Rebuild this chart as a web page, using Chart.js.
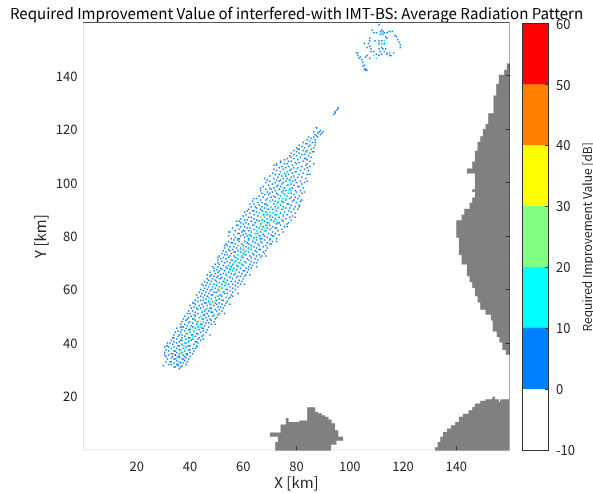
<!DOCTYPE html>
<html>
<head>
<meta charset="utf-8">
<script src="https://cdn.jsdelivr.net/npm/chart.js@4/dist/chart.umd.min.js"></script>
<style>
  body { margin: 0; background: #fff; }
  #wrap { position: relative; width: 593px; height: 493px; }
  canvas { position: absolute; top: 0; }
</style>
</head>
<body>
<div id="wrap">
  <canvas id="map" width="593" height="493" style="left:0"></canvas>
  <canvas id="bar" width="103" height="493" style="left:490px"></canvas>
</div>
<script>
const chartTitle = "Required Improvement Value of interfered-with IMT-BS: Average Radiation Pattern";
const barTitle = "Required Improvement Value [dB]";
const xTicks = [20, 40, 60, 80, 100, 120, 140];
const yTicks = [20, 40, 60, 80, 100, 120, 140];
const xTicksOnLand = [80, 140];
const yTicksOnLand = [40, 60, 80, 100, 120, 140];
const barTicks = [-10, 0, 10, 20, 30, 40, 50, 60];
const barColors = ["#ffffff", "#0080ff", "#00ffff", "#80ff80", "#ffff00", "#ff8000", "#ff0000"];

// land outlines, x then y
const eastLandX = [160, 159, 158, 156, 155, 154, 152, 151, 150, 149, 148, 147, 146, 144, 147, 146, 147, 146, 145, 143, 142, 140, 141, 142, 144, 145, 146, 147, 148, 149, 151, 153, 153.7, 155.2, 156.2, 157.3, 158.6, 160];
const eastLandY = [144.5, 142.2, 140.3, 137, 132.6, 125.9, 121.9, 120, 117.3, 115.3, 111.9, 107.9, 105.3, 103.4, 97.5, 96.5, 94.4, 92.5, 90.2, 88.1, 85.9, 79.4, 72.9, 69.4, 65, 62.7, 60.6, 57.5, 55.2, 52.4, 50.6, 48.4, 44.3, 42.3, 40.2, 37.4, 35.6, 35.6];
const southLandX = [72, 72, 73, 70, 70, 74, 76, 76, 77, 81, 84, 84, 87, 88, 89.5, 90.7, 92, 93.2, 94.5, 95.7, 97.5, 95, 93];
const southLandY = [0, 3, 5, 5, 6.5, 9.5, 10.5, 12, 10.5, 11, 12.5, 16, 14.3, 13.7, 13, 12.4, 11.4, 10, 7.4, 5, 3.5, 2, 0];
const cornerLandX = [132, 132, 133, 134, 135, 136.5, 138, 139.6, 141, 142.5, 144.6, 146, 147, 149, 151, 153.4, 154, 154.6, 156, 156.5, 160, 160];
const cornerLandY = [0, 1, 3, 5, 6.7, 8, 9.3, 10.5, 12.4, 13.6, 14.9, 16.1, 17.4, 18.4, 19, 19.6, 20, 19, 18, 19, 19, 0];
// frame runs, dark where the frame crosses land
const bottomFrameX = [0, 160];
const bottomFrameY = [0, 0];
const rightFrameX = [160, 160];
const rightFrameY = [0, 160];
const southEdgeX = [72, 93];
const cornerEdgeX = [132, 160];
const eastEdgeY = [35.6, 144.5];

// cells per row: y, then the x of each cell in that row
const blueRows = [
  [30.5, 36], [31, 34, 34.5, 36.5], [31.5, 35.5, 37], [32, 32, 33, 35, 35.5, 38.5], [32.5, 34, 36.5, 37.5],
  [33, 31, 32.5, 33, 36, 39], [33.5, 35, 38], [34, 31.5, 34, 34.5, 37, 37.5, 39.5], [34.5, 33, 36, 38.5], [35, 31, 33.5, 35.5, 36, 38, 40],
  [35.5, 32, 34.5, 37.5, 39], [36, 33, 33.5, 36, 38.5, 39, 41], [36.5, 30.5, 35, 37, 40], [37, 32, 34, 34.5, 38, 41.5], [37.5, 31, 36, 36.5, 39.5, 40],
  [38, 33, 35, 37.5, 41, 42], [38.5, 30.5, 32, 34, 38.5], [39, 31.5, 35.5, 36, 39.5, 40, 42.5], [39.5, 33.5, 37, 41.5], [40, 31.5, 32.5, 35, 38, 38.5, 43],
  [40.5, 34, 36, 39.5, 42, 42.5], [41, 33, 36.5, 37, 40.5, 44], [41.5, 35, 38.5, 41, 43], [42, 33.5, 34, 37, 39.5, 40, 43.5], [42.5, 35.5, 38, 42, 44.5],
  [43, 34, 36, 37, 40.5, 41, 45], [43.5, 38.5, 39, 42.5, 43], [44, 34.5, 36.5, 40, 44, 46], [44.5, 35.5, 38, 41.5, 45], [45, 37, 39.5, 40, 43.5, 46.5],
  [45.5, 35, 38.5, 42, 44.5, 45], [46, 36.5, 37, 41, 43, 47], [46.5, 39, 40.5, 45.5], [47, 36.5, 38, 42.5, 44, 44.5, 48], [47.5, 39.5, 41, 46, 47],
  [48, 37, 40, 43, 45, 49], [48.5, 38.5, 42, 46.5, 48], [49, 37.5, 41, 41.5, 44.5, 45, 47.5, 49.5], [49.5, 39.5, 43.5, 46, 50], [50, 38, 40.5, 42, 47, 48.5],
  [50.5, 41.5, 45, 45.5, 49, 50.5], [51, 39, 40, 43, 46.5, 51], [51.5, 42, 44.5, 48, 48.5], [52, 39.5, 41, 45.5, 47, 50, 52], [52.5, 43, 46, 49.5, 51],
  [53, 40.5, 42.5, 44, 47.5, 48, 52.5], [53.5, 41.5, 45, 50.5, 51.5], [54, 40, 43.5, 46.5, 49, 53], [54.5, 42, 44.5, 47.5, 50, 52], [55, 41.5, 45.5, 46, 49.5, 51, 53.5],
  [55.5, 43, 47, 48.5, 54], [56, 42, 44, 45, 50, 52.5, 52], [56.5, 46, 48, 51, 54.5], [57, 43, 45, 47, 49.5, 53.5, 55], [57.5, 44, 46.5, 50.5, 52],
  [58, 42.5, 45.5, 48, 48.5, 51.5, 55.5], [58.5, 44.5, 47, 53, 54], [59, 43.5, 46, 49, 50, 52.5, 56], [59.5, 45, 47.5, 51, 55], [60, 44, 46.5, 48, 50.5, 53.5, 54, 57],
  [60.5, 45.5, 49.5, 52, 56], [61, 47, 48.5, 51, 55, 58], [61.5, 45, 46, 50, 53, 57], [62, 47.5, 49, 52, 54.5, 56, 59], [62.5, 46.5, 51, 53.5, 58],
  [63, 45.5, 48, 50, 52.5, 55.5, 57, 59.5], [63.5, 47, 49.5, 54, 58.5], [64, 46.5, 48.5, 51.5, 53, 56, 60], [64.5, 50, 52, 55, 57.5], [65, 47.5, 49, 50.5, 54, 58, 59, 60.5],
  [65.5, 48, 51.5, 53.5, 56.5, 61], [66, 49.5, 52.5, 55.5, 57, 59.5], [66.5, 47.5, 50.5, 54.5, 58.5, 61.5], [67, 49, 51, 53, 56, 60, 60.5], [67.5, 50, 52, 55, 57.5, 62],
  [68, 49, 51.5, 54, 56.5, 59, 61, 63], [68.5, 50.5, 53.5, 55.5, 58, 62], [69, 52.5, 54.5, 57.5, 60, 63.5], [69.5, 49.5, 51, 56, 59.5, 62.5], [70, 50.5, 53, 55, 58.5, 61, 64, 65],
  [70.5, 52, 54, 57, 60.5, 63], [71, 50.5, 55.5, 56, 59, 62, 65.5], [71.5, 51.5, 53.5, 58, 61.5, 64.5], [72, 52.5, 54.5, 57, 60, 63, 66.5], [72.5, 51, 55, 56.5, 59.5, 62.5, 65, 67],
  [73, 53, 54, 58, 61, 64, 66], [73.5, 52, 55.5, 60, 63.5, 68], [74, 53.5, 56.5, 57, 59, 62, 65, 67.5], [74.5, 52.5, 55, 58, 61, 64.5, 68.5], [75, 54.5, 56, 60, 63, 66, 66.5],
  [75.5, 53, 57.5, 59, 62, 65, 69], [76, 55, 56.5, 61, 64, 67.5], [76.5, 54, 58, 60, 63, 66, 68.5], [77, 53.5, 57, 59.5, 62, 65.5, 70], [77.5, 55.5, 56, 61.5, 64.5, 67, 69],
  [78, 54.5, 58.5, 60.5, 63.5, 66.5, 71], [78.5, 56.5, 58, 62, 65, 68, 70],
  [79, 55.5, 58, 58.5, 62, 66.5, 67, 70, 72.5], [79.5, 57, 60.5, 64, 65, 69], [80, 54.5, 59, 61.5, 63, 66, 68, 71, 71.5], [80.5, 56.5, 60, 62.5, 67.5, 70.5, 73.5],
  [81, 58, 58.5, 61, 64.5, 65.5, 69.5, 72], [81.5, 55, 59.5, 63, 66.5, 71, 75], [82, 57, 60, 60.5, 62, 65, 68, 68.5, 73], [82.5, 58.5, 64, 67, 70, 74.5],
  [83, 56, 61.5, 62.5, 66, 69, 72, 72.5], [83.5, 59, 60.5, 65, 67.5, 71, 75.5], [84, 57.5, 58, 63.5, 64, 68.5, 70, 74], [84.5, 60, 62, 66.5, 72.5, 76.5],
  [85, 59, 61, 64.5, 69, 69.5, 73, 73.5, 77], [85.5, 57.5, 63, 66, 68, 71.5, 75], [86, 60.5, 61.5, 65, 67, 70.5, 74.5, 78], [86.5, 59, 64, 69, 72, 76],
  [87, 62, 63, 66.5, 68, 71, 73.5, 77.5], [87.5, 60, 65.5, 70, 75, 78.5], [88, 61, 64, 67.5, 69, 72, 72.5, 76.5], [88.5, 62.5, 66, 71, 74, 79.5],
  [89, 60.5, 65, 68.5, 70, 75.5, 78], [89.5, 63.5, 64, 67, 72.5, 77], [90, 62, 66.5, 69.5, 71, 74.5, 79, 80.5], [90.5, 65, 68, 73, 76, 77.5],
  [91, 63, 64.5, 67, 70.5, 72, 75, 79.5], [91.5, 66, 69, 74, 78, 81], [92, 64, 68, 68.5, 71.5, 76.5, 77], [92.5, 65.5, 67, 73, 75, 80],
  [93, 63.5, 70, 72, 74.5, 78.5, 81.5], [93.5, 66.5, 68.5, 71, 76, 79], [94, 65, 69, 73.5, 75, 77.5, 80.5], [94.5, 67.5, 70.5, 72, 78, 79.5],
  [95, 66, 71.5, 74, 76.5, 81], [95.5, 68, 69.5, 73, 75.5, 79], [96, 67, 70, 72.5, 77, 78, 82], [96.5, 69, 71, 74.5, 80],
  [97, 66.5, 72, 75, 76, 79.5, 81.5], [97.5, 68.5, 70.5, 73.5, 77.5], [98, 70, 71.5, 75.5, 78.5, 82.5], [98.5, 67.5, 72.5, 74, 80.5, 81],
  [99, 69.5, 73, 76.5, 77, 79], [99.5, 71, 74.5, 78, 82], [100, 68.5, 72, 75, 80, 83], [100.5, 70, 73.5, 76, 78.5, 81.5],
  [101, 69, 72.5, 74, 77.5, 79.5], [101.5, 71.5, 75, 76.5, 83.5], [102, 73, 78, 80.5, 82], [102.5, 70, 74.5, 76, 79],
  [103, 72, 73.5, 77, 81, 84], [103.5, 71, 75.5, 78.5, 82.5], [104, 74, 76.5, 79.5, 80], [104.5, 72.5, 77.5, 81.5, 84.5],
  [105, 71.5, 75, 78, 83], [105.5, 73.5, 76, 79, 80.5], [106, 74.5, 77, 82, 85], [106.5, 72.5, 78.5, 83.5],
  [107, 75.5, 76.5, 80, 84], [107.5, 74, 79.5, 81], [108, 77, 78, 82.5, 85], [108.5, 75.5, 80.5, 84],
  [109, 76.5, 79, 83, 83.5], [109.5, 78, 81.5, 85.5], [110, 77.5, 80, 84.5], [110.5, 79, 82, 83],
  [111, 78, 81, 85], [111.5, 80, 83.5, 86], [112, 79, 82.5, 84], [112.5, 81, 85.5],
  [113, 80, 83, 86.5], [113.5, 82, 84.5], [114, 81, 85, 87], [114.5, 83.5, 84],
  [115, 82.5, 86], [115.5, 85], [116, 84, 87], [116.5, 85.5],
  [117, 86.5, 88], [117.5, 87.5], [118, 87, 89], [118.5, 88, 89.5], [119, 88.5, 90], [119.5, 89], [120.5, 87.5],
  // loose cells outside the main band
  [31.5, 30], [35.5, 30.5], [39, 31.3], [38.5, 42.5], [41.5, 45], [43, 47.5], [46, 37.5], [47, 49.5], [49, 39], [51, 53],
  [54.5, 55], [55, 41], [57.5, 56], [58.5, 58], [62, 44.5], [62, 60.5], [65.5, 46.5], [65.5, 62.5], [68.5, 48.5], [68.5, 65],
  [72, 50.5], [72.5, 68.5], [76.5, 53], [77, 70.5], [78, 72.5], [81.5, 54.5], [83.5, 76.5], [85.5, 58.5], [87, 79.5], [89.5, 61.5],
  [91, 81], [92, 62.5], [93.5, 82], [94, 64], [96.5, 83], [98, 66.5], [100.5, 84], [101.5, 68], [103, 85], [106.5, 71.5],
  [107, 72.5], [108, 74], [107, 86.5], [105.5, 84], [111.5, 86.5], [112.5, 80.5], [115, 87], [117, 84.5], [120.5, 87.5], [119, 86.5],
  // short run near 95 km
  [125.5, 94], [126, 94.5], [126.5, 94.5], [127, 95], [127.5, 95.5], [128, 95.5],
  // northern patch
  [159, 111], [157, 108.5, 112], [156.5, 111.5, 112.5, 115, 116], [156, 109, 110, 113, 114], [155.5, 111.5, 112.5], [155, 117], [154.5, 117.5, 113.5],
  [154, 107.5, 114], [153.5, 118], [153, 107.5, 109.5, 111, 112], [152.5, 118.5], [152, 105.5, 107, 111, 112, 113],
  [151.5, 119], [151, 107.5], [150.5, 119, 106.5, 112], [150, 108, 111, 112.5, 113.5], [149, 108, 109, 111.5, 113],
  [148.5, 102.5, 103, 114, 115, 116.5], [148, 110, 112, 114], [147.5, 103, 106.5, 111, 115.5, 115], [147, 104, 106], [146.5, 103.5, 107.5],
  [146, 104.5], [145, 105], [144, 105.5], [143.5, 105], [142.5, 106, 105.5], [142, 106, 106.5]
];
const cyanRows = [
  [33, 36], [34.5, 35], [36, 37], [37.5, 36.5], [38, 38], [39, 37.5, 39], [40, 38], [41, 39.5], [42.5, 41], [43.5, 38.5], [44, 40], [45, 42.5], [45.5, 40],
  [46, 41.5, 44], [47, 43], [48, 42.5, 45], [49, 44.5], [50, 44], [50.5, 42], [51, 46], [52, 44.5, 47.5], [53, 46.5], [54, 48], [55, 47.5], [56, 49.5, 47], [57, 47],
  [58, 51], [59, 49.5, 53], [60, 48.5], [61, 52], [62, 50, 53.5], [63, 53], [64, 51], [65, 55], [66, 53.5], [67, 55, 57], [68, 55], [69, 56, 58], [70, 56.5, 59],
  [71, 57.5], [72, 59.5, 57.5], [73, 58, 60.5], [74, 60.5], [75, 59, 62], [76, 60, 63], [77, 62.5], [78, 61, 64], [79, 64, 66], [80, 62, 66.5], [81, 65, 67.5],
  [82, 63, 65, 68], [83, 66, 68, 70.5], [84, 64, 66.5, 69], [85, 67, 69.5, 72], [86, 65.5, 67.5, 70, 72.5], [87, 68, 70, 73], [88, 68, 70, 72.5, 75], [88.5, 66, 71],
  [89, 67.5, 69, 71.5, 74], [90, 69, 72, 75], [91, 70.5, 73], [92, 72.5, 74], [93, 70, 73, 75], [94, 75, 76], [95, 74, 76.5], [96, 75, 77], [97, 77, 78],
  [98, 75, 78], [99, 77], [100, 77.5], [101, 77], [102, 79], [103, 76], [105, 80],
  [156.5, 114.5, 115.5], [156, 112], [152, 112], [151.5, 111, 113], [147.5, 109], [146.5, 110], [153, 113]
];
const greenRows = [
  [36.5, 36.5], [39, 38], [41.5, 40], [44, 41.5], [46.5, 43], [48, 44], [50, 45], [52.5, 46.5], [55, 48.5], [57.5, 50], [60, 51], [62.5, 53], [65, 54],
  [67.5, 56], [70, 58], [72, 59], [74.5, 61], [77, 61], [79, 63], [81, 64.5], [83.5, 67], [85.5, 68.5], [87, 66.5], [89, 70], [90.5, 68.5]
];
const yellowRows = [[43, 39], [48.5, 43.5], [60.5, 51.5], [75, 60.5]];
const redRows = [[35.5, 34.5]];

// cells/outline helpers, data stays in the arrays above
const toCells = rows => rows.flatMap(([y, ...xs]) => xs.map(x => ({ x, y })));
const toOutline = (xs, ys) => xs.map((x, i) => ({ x, y: ys[i] }));

const cellSet = (label, rows, color) => ({
  label,
  data: toCells(rows),
  pointStyle: "rect",
  pointRadius: 1.05,
  pointBackgroundColor: color,
  pointBorderWidth: 0,
  showLine: false
});
const landSet = (label, xs, ys) => ({
  label,
  data: toOutline(xs, ys),
  showLine: true,
  stepped: true,
  fill: "shape",
  backgroundColor: "#808080",
  borderWidth: 0,
  pointRadius: 0
});
const frameSet = (label, xs, ys, color) => ({
  label,
  data: toOutline(xs, ys),
  showLine: true,
  borderColor: color,
  borderWidth: 1,
  pointRadius: 0,
  clip: false
});

const fontName = "'Noto Sans CJK JP', sans-serif";
const textColor = "#262626";
const fixedTicks = list => scale => { scale.ticks = list.map(value => ({ value })); };
const tickColor = list => ctx => list.includes(ctx.tick && ctx.tick.value) ? "#333333" : "rgba(0,0,0,0)";

new Chart(document.getElementById("map"), {
  type: "scatter",
  data: {
    datasets: [
      frameSet("south edge", southEdgeX, bottomFrameY, "#555555"),
      frameSet("corner edge", cornerEdgeX, bottomFrameY, "#555555"),
      frameSet("east edge", rightFrameX, eastEdgeY, "#555555"),
      frameSet("bottom frame", bottomFrameX, bottomFrameY, "#e6e6e6"),
      frameSet("right frame", rightFrameX, rightFrameY, "#aaaaaa"),
      cellSet("50-60 dB", redRows, "#ff0000"),
      cellSet("30-40 dB", yellowRows, "#ffff00"),
      cellSet("20-30 dB", greenRows, "#80ff80"),
      cellSet("10-20 dB", cyanRows, "#00ffff"),
      cellSet("0-10 dB", blueRows, "#0080ff"),
      landSet("east", eastLandX, eastLandY),
      landSet("south", southLandX, southLandY),
      landSet("corner", cornerLandX, cornerLandY)
    ]
  },
  options: {
    responsive: false,
    animation: false,
    events: [],
    plugins: {
      legend: { display: false },
      tooltip: { enabled: false },
      title: {
        display: true,
        text: chartTitle,
        color: "#000000",
        font: { family: fontName, size: 15.1, weight: "normal" },
        padding: { top: 4, bottom: 0 }
      }
    },
    scales: {
      x: {
        type: "linear", min: 0, max: 160, position: "bottom",
        afterBuildTicks: fixedTicks(xTicks),
        afterFit: s => { s.height = 43; },
        border: { display: false },
        grid: { drawOnChartArea: false, tickLength: -4, z: 1, tickColor: tickColor(xTicksOnLand) },
        ticks: { autoSkip: false, maxRotation: 0, color: textColor, padding: 12, font: { family: fontName, size: 13 } },
        title: { display: true, text: "X [km]", color: textColor, padding: { top: 0, bottom: 2 }, font: { family: fontName, size: 15 } }
      },
      y: {
        type: "linear", min: 0, max: 160, position: "left",
        afterBuildTicks: fixedTicks(yTicks),
        afterFit: s => { s.width = 83.5; },
        border: { color: "#e6e6e6" },
        grid: { drawOnChartArea: false, drawTicks: false },
        ticks: { autoSkip: false, color: textColor, padding: 6, font: { family: fontName, size: 13 } },
        title: { display: true, text: "Y [km]", color: textColor, padding: { top: 31, bottom: 0 }, font: { family: fontName, size: 15 } }
      },
      top: {
        type: "linear", min: 0, max: 160, position: "top",
        afterBuildTicks: fixedTicks([]),
        afterFit: s => { s.height = 0; },
        border: { color: "#555555" },
        grid: { drawOnChartArea: false, drawTicks: false },
        ticks: { display: false }
      },
      right: {
        type: "linear", min: 0, max: 160, position: "right",
        afterBuildTicks: fixedTicks(yTicks),
        afterFit: s => { s.width = 83.5; },
        border: { display: false },
        grid: { drawOnChartArea: false, tickLength: -4, z: 1, tickColor: tickColor(yTicksOnLand) },
        ticks: { display: false }
      }
    }
  },
  plugins: [{
    // keeps the fractional title size from being hinted to another width
    id: "preciseText",
    beforeDraw(chart) { chart.ctx.textRendering = "geometricPrecision"; }
  }]
});

new Chart(document.getElementById("bar"), {
  type: "bar",
  data: {
    labels: [""],
    datasets: barColors.map((color, i) => ({
      label: barTicks[i] + " to " + barTicks[i + 1],
      data: [[barTicks[i], barTicks[i + 1]]],
      backgroundColor: color,
      barPercentage: 1,
      categoryPercentage: 1,
      grouped: false
    }))
  },
  options: {
    responsive: false,
    animation: false,
    events: [],
    layout: { padding: { left: 32, right: 0, top: 23.7, bottom: 0 } },
    plugins: { legend: { display: false }, tooltip: { enabled: false }, title: { display: false } },
    scales: {
      x: {
        position: "bottom",
        afterFit: s => { s.height = 43; },
        border: { color: "#333333", z: 1 },
        grid: { display: false },
        ticks: { display: false }
      },
      y: {
        type: "linear", min: -10, max: 60, position: "right",
        afterBuildTicks: fixedTicks(barTicks),
        afterFit: s => { s.width = 45; },
        border: { color: "#333333", z: 1 },
        grid: { drawOnChartArea: false, tickLength: -3, z: 1, tickColor: "#333333" },
        ticks: { autoSkip: false, color: textColor, padding: 11, font: { family: fontName, size: 13 } }
      },
      yLeft: {
        type: "linear", min: -10, max: 60, position: "left",
        afterFit: s => { s.width = 0; },
        border: { color: "#333333", z: 1 },
        grid: { drawOnChartArea: false, drawTicks: false },
        ticks: { display: false }
      },
      xTop: {
        type: "linear", position: "top",
        afterFit: s => { s.height = 0; },
        border: { color: "#333333", z: 1 },
        grid: { drawOnChartArea: false, drawTicks: false },
        ticks: { display: false }
      }
    }
  },
  plugins: [{
    id: "barLabel",
    afterDraw(chart) {
      const { ctx, chartArea } = chart;
      ctx.save();
      ctx.translate(97, (chartArea.top + chartArea.bottom) / 2);
      ctx.rotate(-Math.PI / 2);
      ctx.textAlign = "center";
      ctx.textBaseline = "middle";
      ctx.fillStyle = textColor;
      ctx.font = "12px " + fontName;
      ctx.fillText(barTitle, 0, 0);
      ctx.restore();
    }
  }]
});
</script>
</body>
</html>
